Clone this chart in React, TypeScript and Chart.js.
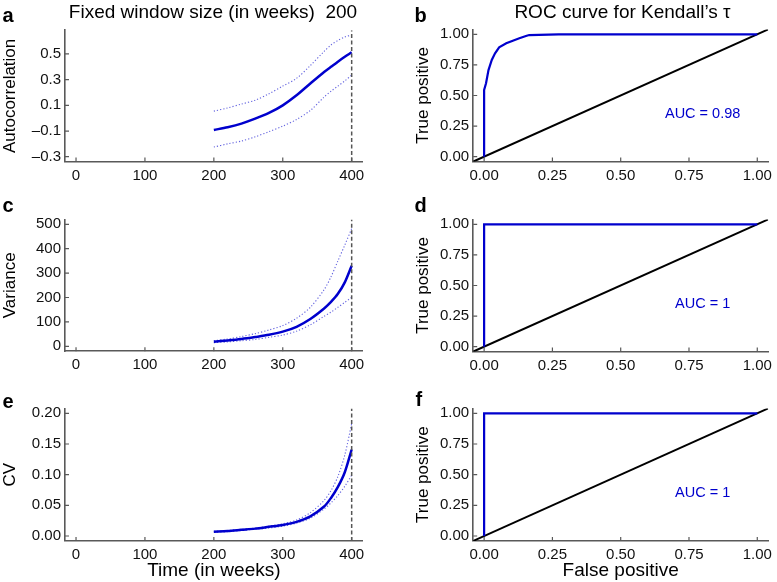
import React, { useEffect, useRef } from "react";
import { Chart, registerables } from "chart.js";
Chart.register(...registerables);

const FONT = '"Liberation Sans", Arial, Helvetica, sans-serif';
const BLUE = "#0000CD";
const DOT_BLUE = "rgba(60,60,215,0.8)";
const AXIS = "#595959";
const TEXT = "#111";

// ---------- data ----------
const weeks = [200, 220, 240, 260, 280, 300, 320, 340, 360, 370, 380, 390, 400];
const vlineWeek = 400;

const acMean = [-0.092, -0.07, -0.042, -0.004, 0.041, 0.1, 0.178, 0.27, 0.36, 0.4, 0.44, 0.478, 0.513];
const acUpper = [0.055, 0.08, 0.11, 0.14, 0.19, 0.25, 0.31, 0.41, 0.52, 0.57, 0.605, 0.632, 0.648];
const acLower = [-0.225, -0.2, -0.178, -0.145, -0.105, -0.062, -0.01, 0.06, 0.165, 0.21, 0.25, 0.29, 0.336];

const varMean = [19, 24, 30, 38, 47, 60, 80, 112, 155, 182, 215, 262, 330];
const varUpper = [23, 30, 40, 52, 67, 85, 115, 160, 232, 285, 350, 415, 482];
const varLower = [15, 18, 23, 28, 37, 46, 62, 88, 123, 140, 160, 180, 201];

const cvMean = [0.007, 0.008, 0.01, 0.012, 0.015, 0.018, 0.023, 0.032, 0.048, 0.062, 0.08, 0.104, 0.141];
const cvUpper = [0.0075, 0.009, 0.011, 0.013, 0.016, 0.02, 0.026, 0.038, 0.058, 0.074, 0.097, 0.132, 0.183];
const cvLower = [0.006, 0.007, 0.009, 0.011, 0.013, 0.016, 0.021, 0.029, 0.044, 0.054, 0.066, 0.081, 0.099];

const rocFpB = [0, 0, 0.007, 0.016, 0.028, 0.04, 0.055, 0.081, 0.105, 0.129, 0.153, 0.165, 0.273, 1.0];
const rocTpB = [0, 0.545, 0.6, 0.708, 0.79, 0.845, 0.894, 0.926, 0.948, 0.967, 0.986, 0.994, 1.0, 1.0];
const rocFpD = [0, 0, 1];
const rocTpD = [0, 1, 1];
const rocFpF = [0, 0, 1];
const rocTpF = [0, 1, 1];
const diagonal = [-0.04, 1.04];

const timeTicks = [0, 100, 200, 300, 400];
const timeTickLabels = ["0", "100", "200", "300", "400"];
const acTicks = [-0.3, -0.1, 0.1, 0.3, 0.5];
const acTickLabels = ["\u20130.3", "\u20130.1", "0.1", "0.3", "0.5"];
const varTicks = [0, 100, 200, 300, 400, 500];
const varTickLabels = ["0", "100", "200", "300", "400", "500"];
const cvTicks = [0, 0.05, 0.1, 0.15, 0.2];
const cvTickLabels = ["0.00", "0.05", "0.10", "0.15", "0.20"];
const rocTicks = [0, 0.25, 0.5, 0.75, 1];
const rocTickLabels = ["0.00", "0.25", "0.50", "0.75", "1.00"];

const aucTexts = ["AUC = 0.98", "AUC = 1", "AUC = 1"];
const aucPos = [0.8, 0.35];

// ---------- helpers ----------
const pts = (xs: number[], ys: number[]) => xs.map((x, i) => ({ x, y: ys[i] }));

type Spec = {
  cx: number; cy: number; cw: number; ch: number;
  area: { l: number; r: number; t: number; b: number };
  xMin: number; xMax: number; yMin: number; yMax: number;
  xTicks: number[]; xLabels: string[]; yTicks: number[]; yLabels: string[];
  yTitle: string; yTitlePad: number; xTitle?: string;
  datasets: any[];
  auc?: string;
};

const inwardTicks = {
  id: "inwardTicks",
  afterDraw(chart: any) {
    const { ctx, chartArea } = chart;
    const xs = chart.scales.x;
    const ys = chart.scales.y;
    ctx.save();
    ctx.strokeStyle = AXIS;
    ctx.lineWidth = 1.2;
    ctx.beginPath();
    xs.ticks.forEach((t: any) => {
      const p = xs.getPixelForValue(t.value);
      ctx.moveTo(p, chartArea.bottom);
      ctx.lineTo(p, chartArea.bottom - 4);
    });
    ys.ticks.forEach((t: any) => {
      const p = ys.getPixelForValue(t.value);
      ctx.moveTo(chartArea.left, p);
      ctx.lineTo(chartArea.left + 4, p);
    });
    ctx.stroke();
    ctx.restore();
  },
};

const aucLabel = {
  id: "aucLabel",
  afterDatasetsDraw(chart: any, _args: any, opts: any) {
    if (!opts || !opts.text) return;
    const { ctx } = chart;
    const px = chart.scales.x.getPixelForValue(opts.x);
    const py = chart.scales.y.getPixelForValue(opts.y);
    ctx.save();
    ctx.fillStyle = BLUE;
    ctx.font = `14.5px ${FONT}`;
    ctx.textAlign = "center";
    ctx.textBaseline = "middle";
    ctx.fillText(opts.text, px, py);
    ctx.restore();
  },
};

function buildConfig(s: Spec): any {
  const bottomH = s.cy + s.ch - s.area.b;
  const leftW = s.area.l - s.cx;
  return {
    type: "scatter",
    data: { datasets: s.datasets },
    plugins: [inwardTicks, aucLabel],
    options: {
      animation: false,
      responsive: false,
      maintainAspectRatio: false,
      devicePixelRatio: 1,
      events: [],
      layout: {
        padding: {
          left: 0,
          top: s.area.t - s.cy,
          right: s.cx + s.cw - s.area.r,
          bottom: 0,
        },
      },
      plugins: {
        legend: { display: false },
        tooltip: { enabled: false },
        title: { display: false },
        aucLabel: s.auc ? { text: s.auc, x: aucPos[0], y: aucPos[1] } : { text: "" },
      },
      elements: { point: { radius: 0 } },
      scales: {
        x: {
          type: "linear",
          position: "bottom",
          min: s.xMin,
          max: s.xMax,
          afterBuildTicks: (sc: any) => {
            sc.ticks = s.xTicks.map((v) => ({ value: v }));
          },
          afterFit: (sc: any) => {
            sc.height = bottomH;
          },
          ticks: {
            callback: (_v: any, i: number) => s.xLabels[i],
            font: { family: FONT, size: 15 },
            color: TEXT,
            padding: 5,
            maxRotation: 0,
            autoSkip: false,
          },
          grid: { display: false, drawTicks: false },
          border: { display: true, color: AXIS, width: 1.6 },
          title: {
            display: !!s.xTitle,
            text: s.xTitle || "",
            font: { family: FONT, size: 19 },
            color: "#000",
            padding: { top: 0, bottom: 0 },
          },
        },
        y: {
          type: "linear",
          position: "left",
          min: s.yMin,
          max: s.yMax,
          afterBuildTicks: (sc: any) => {
            sc.ticks = s.yTicks.map((v) => ({ value: v }));
          },
          afterFit: (sc: any) => {
            sc.width = leftW;
          },
          ticks: {
            callback: (_v: any, i: number) => s.yLabels[i],
            font: { family: FONT, size: 15 },
            color: TEXT,
            padding: 4,
            autoSkip: false,
          },
          grid: { display: false, drawTicks: false },
          border: { display: true, color: AXIS, width: 1.6 },
          title: {
            display: true,
            text: s.yTitle,
            font: { family: FONT, size: 17 },
            color: "#000",
            padding: { top: s.yTitlePad, bottom: 0 },
          },
        },
      },
    },
  };
}

function timeDatasets(mean: number[], upper: number[], lower: number[], yMin: number, yMax: number) {
  return [
    {
      data: [{ x: vlineWeek, y: yMin }, { x: vlineWeek, y: yMax }],
      showLine: true,
      borderColor: "#555",
      borderWidth: 1.5,
      borderDash: [4, 2.5],
      pointRadius: 0,
    },
    {
      data: pts(weeks, mean),
      showLine: true,
      borderColor: BLUE,
      borderWidth: 2.5,
      tension: 0.3,
      pointRadius: 0,
    },
    {
      data: pts(weeks, upper),
      showLine: true,
      borderColor: DOT_BLUE,
      borderWidth: 1.1,
      borderDash: [1.2, 2],
      tension: 0.3,
      pointRadius: 0,
    },
    {
      data: pts(weeks, lower),
      showLine: true,
      borderColor: DOT_BLUE,
      borderWidth: 1.1,
      borderDash: [1.2, 2],
      tension: 0.3,
      pointRadius: 0,
    },
  ];
}

function rocDatasets(fp: number[], tp: number[]) {
  return [
    {
      data: pts(fp, tp),
      showLine: true,
      borderColor: BLUE,
      borderWidth: 2.2,
      tension: 0,
      pointRadius: 0,
    },
    {
      data: pts(diagonal, diagonal),
      showLine: true,
      borderColor: "#000",
      borderWidth: 2,
      pointRadius: 0,
    },
  ];
}

const LX = { cx: 0, cw: 380 };
const RX = { cx: 390, cw: 387 };
const ROWS = [
  { cy: 0, ch: 190 },
  { cy: 190, ch: 190 },
  { cy: 380, ch: 202 },
];
const L_AREA = { l: 65, r: 362.7 };
const R_AREA = { l: 473.2, r: 773.6 };

const AC_RANGE = [-0.338, 0.685];
const VAR_RANGE = [-20, 520];
const CV_RANGE = [-0.008, 0.208];
const TIME_RANGE = [-16, 416];
const ROC_RANGE = [-0.04, 1.04];

const specs: Spec[] = [
  {
    ...LX, ...ROWS[0],
    area: { ...L_AREA, t: 30.2, b: 161.6 },
    xMin: TIME_RANGE[0], xMax: TIME_RANGE[1], yMin: AC_RANGE[0], yMax: AC_RANGE[1],
    xTicks: timeTicks, xLabels: timeTickLabels, yTicks: acTicks, yLabels: acTickLabels,
    yTitle: "Autocorrelation", yTitlePad: 0,
    datasets: timeDatasets(acMean, acUpper, acLower, AC_RANGE[0], AC_RANGE[1]),
  },
  {
    ...RX, ...ROWS[0],
    area: { ...R_AREA, t: 29.4, b: 161.6 },
    xMin: ROC_RANGE[0], xMax: ROC_RANGE[1], yMin: ROC_RANGE[0], yMax: ROC_RANGE[1],
    xTicks: rocTicks, xLabels: rocTickLabels, yTicks: rocTicks, yLabels: rocTickLabels,
    yTitle: "True positive", yTitlePad: 22.8,
    datasets: rocDatasets(rocFpB, rocTpB), auc: aucTexts[0],
  },
  {
    ...LX, ...ROWS[1],
    area: { ...L_AREA, t: 219.4, b: 351.2 },
    xMin: TIME_RANGE[0], xMax: TIME_RANGE[1], yMin: VAR_RANGE[0], yMax: VAR_RANGE[1],
    xTicks: timeTicks, xLabels: timeTickLabels, yTicks: varTicks, yLabels: varTickLabels,
    yTitle: "Variance", yTitlePad: 0,
    datasets: timeDatasets(varMean, varUpper, varLower, VAR_RANGE[0], VAR_RANGE[1]),
  },
  {
    ...RX, ...ROWS[1],
    area: { ...R_AREA, t: 219.4, b: 351.6 },
    xMin: ROC_RANGE[0], xMax: ROC_RANGE[1], yMin: ROC_RANGE[0], yMax: ROC_RANGE[1],
    xTicks: rocTicks, xLabels: rocTickLabels, yTicks: rocTicks, yLabels: rocTickLabels,
    yTitle: "True positive", yTitlePad: 22.8,
    datasets: rocDatasets(rocFpD, rocTpD), auc: aucTexts[1],
  },
  {
    ...LX, ...ROWS[2],
    area: { ...L_AREA, t: 408.4, b: 540.9 },
    xMin: TIME_RANGE[0], xMax: TIME_RANGE[1], yMin: CV_RANGE[0], yMax: CV_RANGE[1],
    xTicks: timeTicks, xLabels: timeTickLabels, yTicks: cvTicks, yLabels: cvTickLabels,
    yTitle: "CV", yTitlePad: 0, xTitle: "Time (in weeks)",
    datasets: timeDatasets(cvMean, cvUpper, cvLower, CV_RANGE[0], CV_RANGE[1]),
  },
  {
    ...RX, ...ROWS[2],
    area: { ...R_AREA, t: 408.4, b: 540.9 },
    xMin: ROC_RANGE[0], xMax: ROC_RANGE[1], yMin: ROC_RANGE[0], yMax: ROC_RANGE[1],
    xTicks: rocTicks, xLabels: rocTickLabels, yTicks: rocTicks, yLabels: rocTickLabels,
    yTitle: "True positive", yTitlePad: 22.8, xTitle: "False positive",
    datasets: rocDatasets(rocFpF, rocTpF), auc: aucTexts[2],
  },
];

function Panel({ spec }: { spec: Spec }) {
  const ref = useRef<HTMLCanvasElement>(null);
  useEffect(() => {
    const chart = new Chart(ref.current as HTMLCanvasElement, buildConfig(spec));
    return () => chart.destroy();
  }, [spec]);
  return (
    <canvas
      ref={ref}
      width={spec.cw}
      height={spec.ch}
      style={{ position: "absolute", left: spec.cx, top: spec.cy, width: spec.cw, height: spec.ch }}
    />
  );
}

// text placed by baseline (line-height 0 trick)
function Label({ text, x, baseline, size, bold, center, color }: any) {
  return (
    <div
      style={{
        position: "absolute",
        left: x,
        top: baseline - 0.3465 * size,
        lineHeight: 0,
        fontFamily: FONT,
        fontSize: size,
        fontWeight: bold ? "bold" : "normal",
        whiteSpace: "pre",
        color: color || "#000",
        transform: center ? "translateX(-50%)" : undefined,
      }}
    >
      {text}
    </div>
  );
}

const panelLetters = [
  { t: "a", x: 2.5, b: 21.7 },
  { t: "b", x: 414.5, b: 21.7 },
  { t: "c", x: 2.5, b: 211.7 },
  { t: "d", x: 414.5, b: 211.7 },
  { t: "e", x: 2.5, b: 407.5 },
  { t: "f", x: 415.5, b: 406 },
];

export default function App() {
  return (
    <div style={{ position: "absolute", left: 0, top: 0, width: 777, height: 582, background: "#fff", overflow: "hidden" }}>
      {specs.map((s, i) => (
        <Panel key={i} spec={s} />
      ))}
      {panelLetters.map((p) => (
        <Label key={p.t} text={p.t} x={p.x} baseline={p.b} size={20} bold />
      ))}
      <Label text={"Fixed window size (in weeks)  200"} x={213} baseline={18.3} size={19} center />
      <Label text={"ROC curve for Kendall\u2019s \u03C4"} x={622.5} baseline={18.3} size={19} center />
    </div>
  );
}
